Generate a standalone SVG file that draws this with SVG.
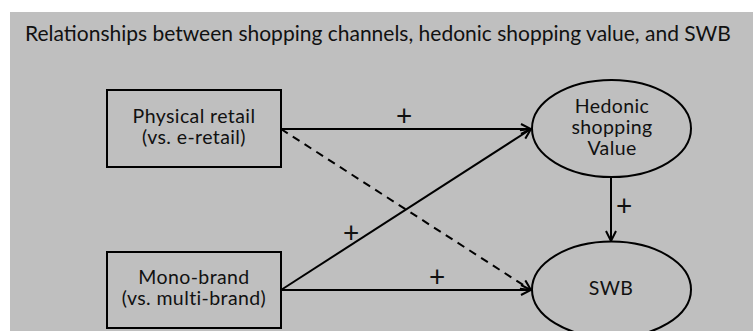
<svg xmlns="http://www.w3.org/2000/svg" width="753" height="331" viewBox="0 0 753 331">
<style>
text{font-family:Lato,"Open Sans",sans-serif;fill:#111;text-anchor:middle;font-size:19.5px;letter-spacing:0.4px}
.plus{font-size:28px;letter-spacing:0}
.node{fill:none;stroke:#000;stroke-width:2}
.edge{stroke:#000;stroke-width:2;fill:none}
.dash{stroke-dasharray:8 6}
</style>
<defs>
<marker id="arr" viewBox="0 0 12 12" refX="11" refY="6" markerWidth="12" markerHeight="12" markerUnits="userSpaceOnUse" orient="auto">
<path d="M1,1 L11,6 L1,11" fill="none" stroke="#000" stroke-width="2"/>
</marker>
</defs>
<rect x="10" y="12" width="743" height="319" fill="#bfbfbf"/>
<text x="25" y="41" style="text-anchor:start;font-size:21px;letter-spacing:0">Relationships between shopping channels, hedonic shopping value, and SWB</text>
<g id="physical">
<rect class="node" x="107" y="90" width="174" height="77"/>
<text x="194" y="123">Physical retail</text>
<text x="194" y="144">(vs. e-retail)</text>
</g>
<g id="mono">
<rect class="node" x="107" y="252" width="174" height="76"/>
<text x="194" y="284">Mono-brand</text>
<text x="194" y="305">(vs. multi-brand)</text>
</g>
<g id="hedonic">
<ellipse class="node" cx="611.5" cy="128.5" rx="79.5" ry="48.5"/>
<text x="612" y="112.5">Hedonic</text>
<text x="612" y="133.5">shopping</text>
<text x="612" y="154.5">Value</text>
</g>
<g id="swb">
<ellipse class="node" cx="611.5" cy="289.5" rx="79.5" ry="48"/>
<text x="611" y="295">SWB</text>
</g>
<g id="connectors">
<line class="edge" x1="281" y1="129" x2="531" y2="129" marker-end="url(#arr)"/>
<line class="edge dash" x1="281" y1="129" x2="531" y2="290" marker-end="url(#arr)"/>
<line class="edge" x1="281" y1="290" x2="531" y2="129" marker-end="url(#arr)"/>
<line class="edge" x1="281" y1="290" x2="531" y2="290" marker-end="url(#arr)"/>
<line class="edge" x1="611" y1="177" x2="611" y2="241" marker-end="url(#arr)"/>
<text class="plus" x="404" y="126">+</text>
<text class="plus" x="351" y="243">+</text>
<text class="plus" x="437" y="287">+</text>
<text class="plus" x="624" y="216">+</text>
</g>
</svg>
